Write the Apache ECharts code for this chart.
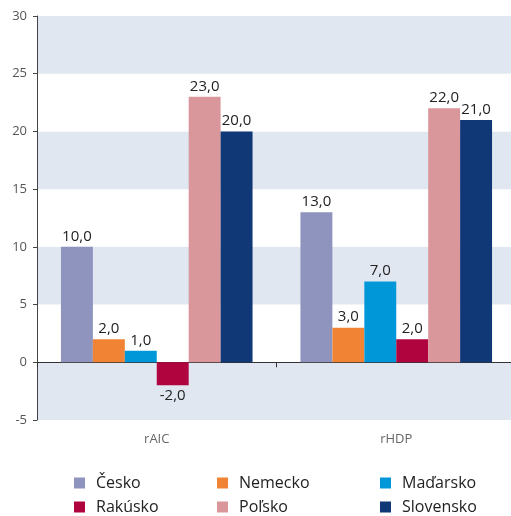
<!DOCTYPE html>
<html>
<head>
<meta charset="utf-8">
<script src="https://cdn.jsdelivr.net/npm/echarts@6/dist/echarts.min.js"></script>
<style>
  html, body { margin: 0; padding: 0; background: #fff; }
  #chart { width: 511px; height: 516px; }
</style>
</head>
<body>
<div id="chart"></div>
<script>
const categories = ['rAIC', 'rHDP'];
const seriesNames = ['Česko', 'Nemecko', 'Maďarsko', 'Rakúsko', 'Poľsko', 'Slovensko'];
const cesko = [10, 13];
const nemecko = [2, 3];
const madarsko = [1, 7];
const rakusko = [-2, 2];
const polsko = [23, 22];
const slovensko = [20, 21];
const colors = ['#8e94bd', '#f08434', '#0097d9', '#b0043f', '#da979b', '#103776'];

const values = [cesko, nemecko, madarsko, rakusko, polsko, slovensko];
const font = '"Open Sans", "Noto Sans", sans-serif';

const chart = echarts.init(document.getElementById('chart'));

const series = seriesNames.map((name, i) => ({
  name: name,
  type: 'bar',
  barGap: 0,
  barCategoryGap: '20%',
  itemStyle: { color: colors[i] },
  data: values[i].map(v => ({
    value: v,
    label: { position: v < 0 ? 'bottom' : 'top' }
  })),
  label: {
    show: true,
    distance: 3,
    color: '#222',
    fontSize: 15,
    fontFamily: font,
    formatter: p => p.value.toFixed(1).replace('.', ',')
  }
}));

const legendBase = {
  orient: 'vertical',
  top: 474,
  height: 42,
  padding: 0,
  itemWidth: 11,
  itemHeight: 11,
  itemGap: 6,
  icon: 'rect',
  selectedMode: false,
  textStyle: { color: '#222', fontSize: 16, lineHeight: 18, fontFamily: font, padding: [0, 0, 0, 6] }
};

chart.setOption({
  animation: false,
  legend: [
    Object.assign({}, legendBase, { left: 74, data: ['Česko', 'Rakúsko'] }),
    Object.assign({}, legendBase, { left: 217, data: ['Nemecko', 'Poľsko'] }),
    Object.assign({}, legendBase, { left: 380, data: ['Maďarsko', 'Slovensko'] })
  ],
  grid: { left: 37, right: -5, top: 16, bottom: 96, containLabel: false, outerBoundsMode: 'none' },
  xAxis: {
    type: 'category',
    data: categories,
    axisLine: { onZero: true, lineStyle: { color: '#333', width: 1 } },
    axisTick: { show: true, length: 5, inside: false, lineStyle: { color: '#333' } },
    axisLabel: { color: '#666', fontSize: 13, fontFamily: font, margin: 13 }
  },
  yAxis: {
    type: 'value',
    min: -5,
    max: 30,
    interval: 5,
    axisLine: { show: true, lineStyle: { color: '#444' } },
    axisTick: { show: true, length: 4, lineStyle: { color: '#444' } },
    axisLabel: { color: '#555', fontSize: 13, fontFamily: font, margin: 10 },
    splitLine: { show: false },
    splitArea: { show: true, areaStyle: { color: ['#e1e7f1', '#ffffff'] } }
  },
  series: series
});
</script>
</body>
</html>
